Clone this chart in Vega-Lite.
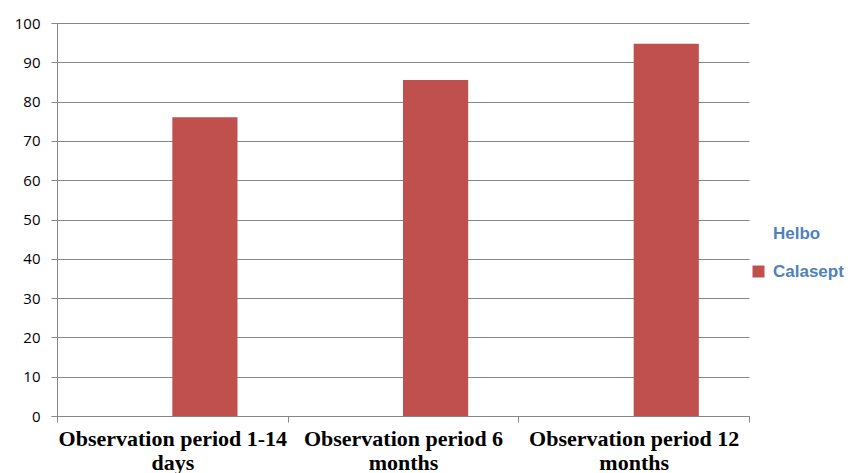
{
  "$schema": "https://vega.github.io/schema/vega-lite/v6.json",
  "width": 692,
  "height": 393,
  "autosize": {"type": "none"},
  "padding": {"left": 57, "top": 23, "right": 102, "bottom": 57},
  "background": "white",
  "config": {"view": {"stroke": null}},
  "data": {
    "values": [
      {"period": "Observation period 1-14|days", "series": "Helbo", "value": 0},
      {"period": "Observation period 1-14|days", "series": "Calasept", "value": 76},
      {"period": "Observation period 6|months", "series": "Helbo", "value": 0},
      {"period": "Observation period 6|months", "series": "Calasept", "value": 85.5},
      {"period": "Observation period 12|months", "series": "Helbo", "value": 0},
      {"period": "Observation period 12|months", "series": "Calasept", "value": 94.7}
    ]
  },
  "mark": {"type": "bar"},
  "encoding": {
    "x": {
      "field": "period",
      "type": "nominal",
      "sort": ["Observation period 1-14|days", "Observation period 6|months", "Observation period 12|months"],
      "scale": {"paddingInner": 0, "paddingOuter": 0},
      "axis": {
        "title": null,
        "labelExpr": "split(datum.label, '|')",
        "labelAngle": 0,
        "tickBand": "extent",
        "labelFont": "Liberation Serif",
        "labelFontWeight": "bold",
        "labelFontSize": 22,
        "labelColor": "black",
        "labelLineHeight": 24,
        "labelBaseline": "top",
        "labelPadding": 6,
        "labelLimit": 400,
        "labelOverlap": false,
        "tickColor": "#868686",
        "domainColor": "#868686",
        "tickSize": 6,
        "grid": false
      }
    },
    "xOffset": {
      "field": "series",
      "sort": ["Helbo", "Calasept"],
      "scale": {"paddingInner": 0, "paddingOuter": 0.77}
    },
    "y": {
      "field": "value",
      "type": "quantitative",
      "scale": {"domain": [0, 100]},
      "axis": {
        "title": null,
        "values": [0, 10, 20, 30, 40, 50, 60, 70, 80, 90, 100],
        "gridColor": "#868686",
        "domainColor": "#868686",
        "tickColor": "#868686",
        "tickSize": 6,
        "labelPadding": 11,
        "labelFont": "Open Sans",
        "labelFontSize": 15,
        "labelColor": "black"
      }
    },
    "color": {
      "field": "series",
      "type": "nominal",
      "scale": {"domain": ["Helbo", "Calasept"], "range": ["white", "#C0504D"]},
      "legend": {
        "title": null,
        "orient": "none",
        "legendX": 693,
        "legendY": 202,
        "symbolType": "square",
        "symbolSize": 144,
        "symbolStrokeWidth": 0,
        "labelColor": "#4F81BD",
        "labelFont": "Liberation Sans",
        "labelFontWeight": "bold",
        "labelFontSize": 17,
        "rowPadding": 20,
        "labelOffset": 6
      }
    }
  }
}
